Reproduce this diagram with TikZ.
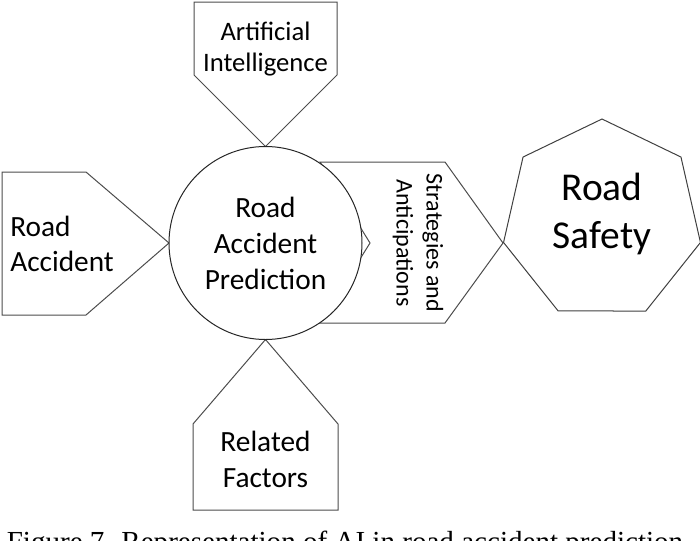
\documentclass[tikz,border=0pt]{standalone}
\usepackage{fontspec}
\setmainfont{Carlito}
\newfontfamily\capfont{Liberation Serif}
\usetikzlibrary{positioning,shapes.geometric}
\tikzset{x=0.75pt,y=-0.75pt,
shp/.style={draw=black!70,line width=0.75pt,line join=miter},
rnd/.style={circle,draw=black!85,line width=0.75pt,fill=white,minimum size=144.75pt,inner sep=0pt},
hept/.style={regular polygon,regular polygon sides=7,draw=black!75,line width=0.75pt,fill=white,minimum size=151.5pt,inner sep=0pt},
lbl/.style={align=center,inner sep=0pt},
}

\begin{document}
\begin{tikzpicture}
	\useasboundingbox (0,0) rectangle (700,540);
	\clip (0,0) rectangle (700,540);

	% input and output shapes
	\draw[shp] (194,2) -- (337,2) -- (337,75) -- (265.5,146.5) -- (194,75) -- cycle;
	\draw[shp] (2,172) -- (86,172) -- (169,243) -- (86,315) -- (2,315) -- cycle;
	\draw[shp] (265.5,339.5) -- (338,424) -- (338,510) -- (193,510) -- (193,424) -- cycle;
	\draw[shp] (320,162) -- (445,162) -- (503,243) -- (445,323) -- (320,323) -- (370,243) -- cycle;

	\node[rnd] (pred) at (265.5,243) {};
	\node[hept] (safety) at (602,220) {};

	\node[lbl,font=\fontsize{20}{23}\selectfont] (ai) at (265.5,49) {Artificial\\Intelligence};
	\node[lbl,align=left,anchor=west,font=\fontsize{22}{26}\selectfont] (acc) at (10,244) {Road\\Accident};
	\node[lbl,font=\fontsize{22}{27}\selectfont] (predtxt) at (pred.center) {Road\\Accident\\Prediction};
	\node[lbl,font=\fontsize{22}{27}\selectfont] (factors) at (265.5,459) {Related\\Factors};
	\node[lbl,rotate=-90,font=\fontsize{18}{22.5}\selectfont] (strat) at (418,243) {Strategies and\\Anticipations};
	\node[lbl,font=\fontsize{29.6}{36}\selectfont] (safetytxt) at (602,214) {Road\\Safety};

	\node[anchor=base,inner sep=0pt,font=\capfont\fontsize{21.8}{26}\selectfont] (caption) at (345,551)
		{Figure 7. Representation of AI in road accident prediction};
\end{tikzpicture}
\end{document}
